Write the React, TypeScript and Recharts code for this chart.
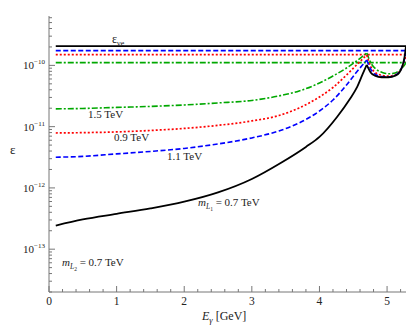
import React from 'react';
import { LineChart, Line, XAxis, YAxis } from 'recharts';

// x: photon energy E_gamma [GeV], y: epsilon (log scale)
const xTicks = [0, 0.2, 0.4, 0.6, 0.8, 1, 1.2, 1.4, 1.6, 1.8, 2, 2.2, 2.4, 2.6, 2.8, 3, 3.2, 3.4, 3.6, 3.8, 4, 4.2, 4.4, 4.6, 4.8, 5, 5.2];
const xMajor = [0, 1, 2, 3, 4, 5];
const yTicks = [
  2e-14, 3e-14, 4e-14, 5e-14, 6e-14, 7e-14, 8e-14, 9e-14,
  1e-13, 2e-13, 3e-13, 4e-13, 5e-13, 6e-13, 7e-13, 8e-13, 9e-13,
  1e-12, 2e-12, 3e-12, 4e-12, 5e-12, 6e-12, 7e-12, 8e-12, 9e-12,
  1e-11, 2e-11, 3e-11, 4e-11, 5e-11, 6e-11, 7e-11, 8e-11, 9e-11,
  1e-10, 2e-10, 3e-10, 4e-10, 5e-10, 6e-10,
];

// constant levels (eps_nue and the three flat curves)
const flatBlack = [{ E: 0.1, v: 2.07e-10 }, { E: 5.28, v: 2.07e-10 }];
const flatBlue = [{ E: 0.1, v: 1.74e-10 }, { E: 5.28, v: 1.74e-10 }];
const flatRed = [{ E: 0.1, v: 1.5e-10 }, { E: 5.28, v: 1.5e-10 }];
const flatGreen = [{ E: 0.1, v: 1.11e-10 }, { E: 5.28, v: 1.11e-10 }];

// rising branches up to the cusp
const riseBlack = [
  { E: 0.1, v: 2.43e-13 }, { E: 0.5, v: 3.06e-13 }, { E: 1.0, v: 3.77e-13 }, { E: 1.5, v: 4.63e-13 },
  { E: 2.0, v: 5.96e-13 }, { E: 2.5, v: 8.45e-13 }, { E: 3.0, v: 1.4e-12 }, { E: 3.42, v: 2.53e-12 },
  { E: 3.8, v: 4.67e-12 }, { E: 4.0, v: 6.79e-12 }, { E: 4.26, v: 1.44e-11 }, { E: 4.45, v: 2.83e-11 },
  { E: 4.56, v: 4.5e-11 }, { E: 4.64, v: 7.24e-11 }, { E: 4.7, v: 1.02e-10 },
];
const riseBlue = [
  { E: 0.1, v: 3.17e-12 }, { E: 0.5, v: 3.27e-12 }, { E: 1.0, v: 3.59e-12 }, { E: 1.5, v: 3.94e-12 },
  { E: 2.0, v: 4.41e-12 }, { E: 2.5, v: 5.22e-12 }, { E: 3.0, v: 6.55e-12 }, { E: 3.4, v: 8.51e-12 },
  { E: 3.7, v: 1.15e-11 }, { E: 4.0, v: 1.8e-11 }, { E: 4.2, v: 2.72e-11 }, { E: 4.4, v: 4.79e-11 },
  { E: 4.55, v: 7.8e-11 }, { E: 4.7, v: 1.22e-10 },
];
const riseRed = [
  { E: 0.1, v: 7.88e-12 }, { E: 0.5, v: 7.98e-12 }, { E: 1.0, v: 8.2e-12 }, { E: 1.5, v: 8.67e-12 },
  { E: 2.0, v: 9.35e-12 }, { E: 2.5, v: 1.05e-11 }, { E: 3.0, v: 1.24e-11 }, { E: 3.4, v: 1.52e-11 },
  { E: 3.7, v: 2.02e-11 }, { E: 4.0, v: 3.05e-11 }, { E: 4.2, v: 4.36e-11 }, { E: 4.4, v: 6.97e-11 },
  { E: 4.55, v: 1.02e-10 }, { E: 4.7, v: 1.48e-10 },
];
const riseGreen = [
  { E: 0.1, v: 1.95e-11 }, { E: 0.5, v: 1.98e-11 }, { E: 1.0, v: 2.06e-11 }, { E: 1.5, v: 2.14e-11 },
  { E: 2.0, v: 2.26e-11 }, { E: 2.5, v: 2.44e-11 }, { E: 3.0, v: 2.68e-11 }, { E: 3.4, v: 3.17e-11 },
  { E: 3.7, v: 3.82e-11 }, { E: 4.0, v: 5.16e-11 }, { E: 4.2, v: 6.72e-11 }, { E: 4.4, v: 9.07e-11 },
  { E: 4.55, v: 1.18e-10 }, { E: 4.7, v: 1.59e-10 },
];

// dip between the cusp and the endpoint
const dipBlack = [
  { E: 4.7, v: 1.02e-10 }, { E: 4.76, v: 7.6e-11 }, { E: 4.82, v: 6.8e-11 }, { E: 4.92, v: 6.4e-11 },
  { E: 5.02, v: 6.4e-11 }, { E: 5.12, v: 6.8e-11 }, { E: 5.18, v: 7.6e-11 }, { E: 5.23, v: 1.0e-10 },
  { E: 5.26, v: 1.4e-10 }, { E: 5.28, v: 2.07e-10 },
];
const dipBlue = [
  { E: 4.7, v: 1.22e-10 }, { E: 4.76, v: 8.6e-11 }, { E: 4.82, v: 7.2e-11 }, { E: 4.92, v: 6.6e-11 },
  { E: 5.02, v: 6.5e-11 }, { E: 5.12, v: 6.9e-11 }, { E: 5.18, v: 7.8e-11 }, { E: 5.23, v: 1.0e-10 },
  { E: 5.26, v: 1.3e-10 }, { E: 5.28, v: 1.74e-10 },
];
const dipRed = [
  { E: 4.7, v: 1.48e-10 }, { E: 4.76, v: 9.5e-11 }, { E: 4.82, v: 7.7e-11 }, { E: 4.92, v: 6.9e-11 },
  { E: 5.02, v: 6.7e-11 }, { E: 5.12, v: 7.0e-11 }, { E: 5.18, v: 7.9e-11 }, { E: 5.23, v: 9.8e-11 },
  { E: 5.26, v: 1.2e-10 }, { E: 5.28, v: 1.5e-10 },
];
const dipGreen = [
  { E: 4.7, v: 1.59e-10 }, { E: 4.76, v: 1.1e-10 }, { E: 4.84, v: 8.6e-11 }, { E: 4.94, v: 7.6e-11 },
  { E: 5.04, v: 7.3e-11 }, { E: 5.12, v: 7.5e-11 }, { E: 5.18, v: 8.2e-11 }, { E: 5.23, v: 9.3e-11 },
  { E: 5.26, v: 1.02e-10 }, { E: 5.28, v: 1.11e-10 },
];

const FRAME = '#777';
const FONT = "'Liberation Serif', 'Times New Roman', Times, serif";
const X_DOMAIN: [number, number] = [0, 5.28];
const Y_DOMAIN: [number, number] = [2e-14, 6.4e-10];

const isMajorY = (v: number) => Math.abs(Math.log10(v) - Math.round(Math.log10(v))) < 1e-6;

const LeftTick = (props: any) => {
  const { x, y, payload } = props;
  const major = isMajorY(payload.value);
  const e = Math.round(Math.log10(payload.value));
  return (
    <g>
      <line x1={x} x2={x + (major ? 6 : 3)} y1={y} y2={y} stroke={FRAME} />
      {major && (
        <text x={x - 4} y={y + 4} textAnchor="end" style={{ fontFamily: FONT }} fontSize={11} fill="#222">
          10<tspan dy={-5} fontSize={7}>{'\u2212' + -e}</tspan>
        </text>
      )}
    </g>
  );
};

const RightTick = (props: any) => {
  const { x, y, payload } = props;
  const major = isMajorY(payload.value);
  return <line x1={x} x2={x - (major ? 6 : 3)} y1={y} y2={y} stroke={FRAME} />;
};

const BottomTick = (props: any) => {
  const { x, y, payload } = props;
  const major = xMajor.includes(payload.value);
  return (
    <g>
      <line x1={x} x2={x} y1={y} y2={y - (major ? 6 : 3)} stroke={FRAME} />
      {major && (
        <text x={x} y={y + 13} textAnchor="middle" style={{ fontFamily: FONT }} fontSize={11.5} fill="#222">
          {payload.value}
        </text>
      )}
    </g>
  );
};

const TopTick = (props: any) => {
  const { x, y, payload } = props;
  const major = xMajor.includes(payload.value);
  return <line x1={x} x2={x} y1={y} y2={y + (major ? 6 : 3)} stroke={FRAME} />;
};

const lineProps = { type: 'monotone' as const, dataKey: 'v', dot: false, isAnimationActive: false, xAxisId: 'b', yAxisId: 'l' };

export default function App() {
  return (
    <div style={{ position: 'absolute', left: 0, top: 0, width: 409, height: 328, background: '#fff' }}>
      <LineChart width={409} height={328} margin={{ top: 16, right: 3, left: 0, bottom: 0 }}>
        <XAxis xAxisId="b" dataKey="E" type="number" domain={X_DOMAIN} ticks={xTicks} allowDataOverflow
          height={36} stroke={FRAME} tickSize={0} tickMargin={0} interval={0} tick={<BottomTick />} />
        <XAxis xAxisId="t" orientation="top" dataKey="E" type="number" domain={X_DOMAIN} ticks={xTicks} allowDataOverflow
          height={0} stroke={FRAME} tickSize={0} tickMargin={0} interval={0} tick={<TopTick />} />
        <YAxis yAxisId="l" type="number" scale="log" domain={Y_DOMAIN} ticks={yTicks} allowDataOverflow
          width={49} stroke={FRAME} tickSize={0} tickMargin={0} interval={0} tick={<LeftTick />} />
        <YAxis yAxisId="r" orientation="right" type="number" scale="log" domain={Y_DOMAIN} ticks={yTicks} allowDataOverflow
          width={0} stroke={FRAME} tickSize={0} tickMargin={0} interval={0} tick={<RightTick />} />

        <Line {...lineProps} data={flatGreen} stroke="#00a800" strokeWidth={1.6} strokeDasharray="6 2 2 2" />
        <Line {...lineProps} data={flatRed} stroke="#ff0000" strokeWidth={1.7} strokeDasharray="2 2" />
        <Line {...lineProps} data={flatBlue} stroke="#0000ff" strokeWidth={1.6} strokeDasharray="5 2.5" />
        <Line {...lineProps} data={flatBlack} stroke="#000" strokeWidth={1.8} />

        <Line {...lineProps} data={riseGreen} stroke="#00a800" strokeWidth={1.6} strokeDasharray="6 2 2 2" />
        <Line {...lineProps} data={riseRed} stroke="#ff0000" strokeWidth={1.7} strokeDasharray="2 2" />
        <Line {...lineProps} data={riseBlue} stroke="#0000ff" strokeWidth={1.6} strokeDasharray="5 2.5" />
        <Line {...lineProps} data={riseBlack} stroke="#000" strokeWidth={1.8} />

        <Line {...lineProps} data={dipGreen} stroke="#00a800" strokeWidth={1.6} strokeDasharray="6 2 2 2" />
        <Line {...lineProps} data={dipRed} stroke="#ff0000" strokeWidth={1.7} strokeDasharray="2 2" />
        <Line {...lineProps} data={dipBlue} stroke="#0000ff" strokeWidth={1.6} strokeDasharray="5 2.5" />
        <Line {...lineProps} data={dipBlack} stroke="#000" strokeWidth={1.8} />
      </LineChart>

      <svg width={409} height={328} style={{ position: 'absolute', left: 0, top: 0, pointerEvents: 'none', fontFamily: FONT }}
        fill="#222">
        <text x={112} y={43} fontSize={12}>ε<tspan dy={3} fontSize={8}>νe</tspan></text>
        <text x={88} y={118} fontSize={11}>1.5 TeV</text>
        <text x={114} y={141} fontSize={11}>0.9 TeV</text>
        <text x={167} y={160} fontSize={11}>1.1 TeV</text>
        <text x={198} y={206} fontSize={11}>
          <tspan fontStyle="italic">m</tspan><tspan dy={3} fontSize={7.5} fontStyle="italic">L</tspan>
          <tspan dy={2} fontSize={5.5}>1</tspan><tspan dy={-5}> = 0.7 TeV</tspan>
        </text>
        <text x={62} y={266} fontSize={11}>
          <tspan fontStyle="italic">m</tspan><tspan dy={3} fontSize={7.5} fontStyle="italic">L</tspan>
          <tspan dy={2} fontSize={5.5}>2</tspan><tspan dy={-5}> = 0.7 TeV</tspan>
        </text>
        <text x={10} y={154} fontSize={13}>ε</text>
        <text x={202} y={320} fontSize={12}>
          <tspan fontStyle="italic">E</tspan><tspan dy={3} fontSize={8.5} fontStyle="italic">γ</tspan>
          <tspan dy={-3}> [GeV]</tspan>
        </text>
      </svg>
    </div>
  );
}
